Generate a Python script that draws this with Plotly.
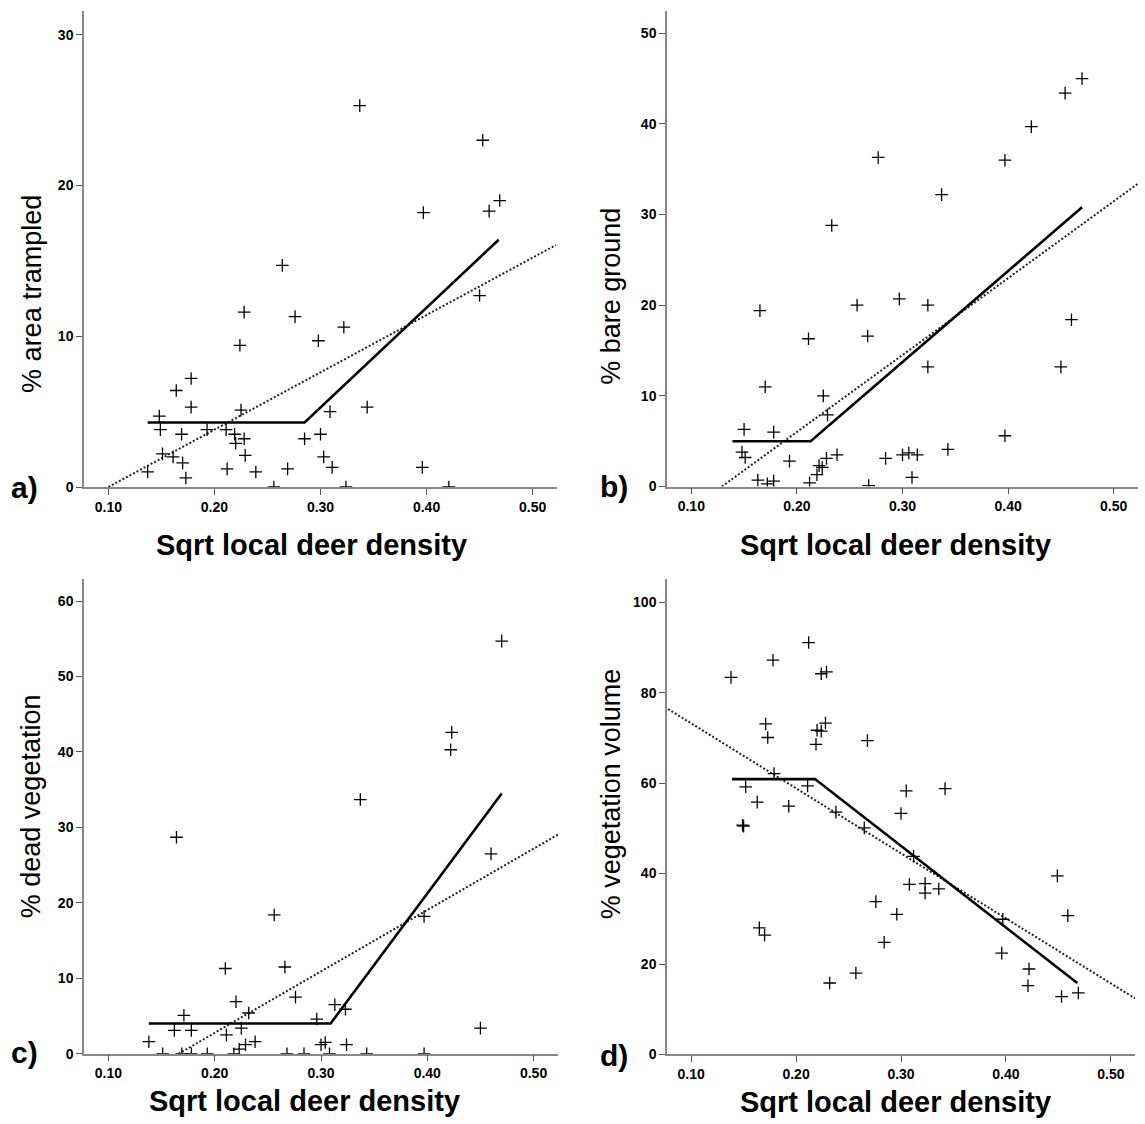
import plotly.graph_objects as go

# ---------------- data ----------------
# a) % area trampled
xa = [0.337, 0.453, 0.469, 0.459, 0.397, 0.450, 0.264, 0.228, 0.276, 0.322, 0.224, 0.298,
      0.178, 0.164, 0.178, 0.344, 0.148, 0.225, 0.309, 0.149, 0.169, 0.193, 0.211, 0.219,
      0.220, 0.228, 0.285, 0.300, 0.151, 0.161, 0.170, 0.229, 0.303, 0.173, 0.137, 0.212,
      0.239, 0.269, 0.311, 0.396, 0.256, 0.324, 0.421]
ya = [25.3, 23.0, 19.0, 18.3, 18.2, 12.7, 14.7, 11.6, 11.3, 10.6, 9.4, 9.7,
      7.2, 6.4, 5.3, 5.3, 4.7, 5.1, 5.0, 3.8, 3.5, 3.8, 3.8, 3.5,
      2.9, 3.2, 3.2, 3.5, 2.2, 2.0, 1.6, 2.1, 2.0, 0.6, 1.0, 1.2,
      1.0, 1.2, 1.3, 1.3, 0.0, 0.0, 0.0]
seg_xa = [0.137, 0.285, 0.468]
seg_ya = [4.28, 4.28, 16.4]
fit_xa = [0.100, 0.522]
fit_ya = [0.0, 16.05]

# b) % bare ground
xb = [0.470, 0.454, 0.422, 0.397, 0.277, 0.337, 0.233, 0.297, 0.257, 0.324, 0.165, 0.460,
      0.267, 0.211, 0.324, 0.450, 0.170, 0.225, 0.229, 0.150, 0.178, 0.397, 0.343, 0.148,
      0.151, 0.238, 0.228, 0.193, 0.284, 0.300, 0.306, 0.314, 0.221, 0.224, 0.219, 0.309,
      0.163, 0.178, 0.172, 0.212, 0.268]
yb = [45.0, 43.4, 39.7, 36.0, 36.3, 32.2, 28.8, 20.7, 20.0, 20.0, 19.4, 18.4,
      16.6, 16.3, 13.2, 13.2, 11.0, 10.0, 7.9, 6.3, 6.0, 5.6, 4.1, 3.8,
      3.2, 3.5, 3.1, 2.8, 3.1, 3.5, 3.7, 3.5, 2.3, 2.1, 1.3, 1.0,
      0.7, 0.6, 0.3, 0.4, 0.1]
seg_xb = [0.139, 0.213, 0.470]
seg_yb = [5.0, 5.0, 30.8]
fit_xb = [0.129, 0.524]
fit_yb = [0.0, 33.5]

# c) % dead vegetation
xc = [0.470, 0.423, 0.422, 0.337, 0.164, 0.460, 0.256, 0.397, 0.210, 0.266, 0.276, 0.220,
      0.313, 0.232, 0.323, 0.171, 0.296, 0.162, 0.178, 0.225, 0.450, 0.211, 0.138, 0.238,
      0.229, 0.304, 0.300, 0.324, 0.223, 0.151, 0.169, 0.178, 0.193, 0.218, 0.268, 0.284,
      0.308, 0.343, 0.397]
yc = [54.7, 42.6, 40.3, 33.7, 28.7, 26.5, 18.4, 18.2, 11.3, 11.5, 7.5, 6.9,
      6.5, 5.4, 5.9, 5.1, 4.6, 3.1, 3.1, 3.4, 3.4, 2.5, 1.6, 1.6,
      1.2, 1.5, 1.2, 1.2, 0.6, 0.0, 0.0, 0.0, 0.0, 0.0, 0.0, 0.0,
      0.0, 0.0, 0.0]
seg_xc = [0.138, 0.309, 0.470]
seg_yc = [4.0, 4.0, 34.5]
fit_xc = [0.166, 0.523]
fit_yc = [0.0, 29.05]

# d) % vegetation volume
xd = [0.212, 0.178, 0.138, 0.224, 0.229, 0.171, 0.173, 0.228, 0.220, 0.224, 0.219, 0.268,
      0.179, 0.152, 0.211, 0.305, 0.342, 0.163, 0.193, 0.238, 0.300, 0.149, 0.150, 0.265,
      0.308, 0.323, 0.323, 0.336, 0.449, 0.276, 0.296, 0.459, 0.397, 0.165, 0.170, 0.284,
      0.396, 0.422, 0.421, 0.257, 0.232, 0.453, 0.469, 0.312]
yd = [91.1, 87.2, 83.4, 84.2, 84.6, 73.1, 70.1, 73.3, 71.7, 71.5, 68.6, 69.4,
      62.1, 59.2, 59.4, 58.3, 58.8, 55.8, 54.9, 53.6, 53.3, 50.7, 50.5, 50.1,
      37.6, 37.8, 35.7, 36.6, 39.5, 33.8, 31.0, 30.7, 29.9, 28.0, 26.4, 24.8,
      22.4, 18.9, 15.2, 18.0, 15.8, 12.8, 13.6, 43.8]
seg_xd = [0.139, 0.218, 0.468]
seg_yd = [60.9, 60.9, 15.8]
fit_xd = [0.078, 0.523]
fit_yd = [76.4, 12.4]

y_titles = ["% area trampled", "% bare ground", "% dead vegetation", "% vegetation volume"]
panel_labels = ["a)", "b)", "c)", "d)"]
x_title = "Sqrt local deer density"
x_ticks = [0.10, 0.20, 0.30, 0.40, 0.50]
y_ticks = [[0, 10, 20, 30], [0, 10, 20, 30, 40, 50],
           [0, 10, 20, 30, 40, 50, 60], [0, 20, 40, 60, 80, 100]]
y_max = [31.6, 52.5, 62.9, 105.1]

# ---------------- figure ----------------
W, H = 1145, 1124
FONT = "Liberation Sans, Arial, sans-serif"

panels = [
    (xa, ya, seg_xa, seg_ya, fit_xa, fit_ya),
    (xb, yb, seg_xb, seg_yb, fit_xb, fit_yb),
    (xc, yc, seg_xc, seg_yc, fit_xc, fit_yc),
    (xd, yd, seg_xd, seg_yd, fit_xd, fit_yd),
]

# plot-area pixel boxes (left, right, top, bottom)
boxes = [(84, 557, 10.7, 490.5), (667, 1138, 10.7, 490.0),
         (84, 558, 583.4, 1061.3), (667, 1135, 583.4, 1062.0)]

fig = go.Figure()
layout = dict(width=W, height=H, autosize=False,
              margin=dict(l=0, r=0, t=0, b=0),
              paper_bgcolor="white", plot_bgcolor="white",
              showlegend=False, annotations=[])

for i, (px, py, sx, sy, fx, fy) in enumerate(panels):
    k = "" if i == 0 else str(i + 1)
    xref, yref = "x" + k, "y" + k
    fig.add_trace(go.Scatter(x=fx, y=fy, mode="lines", xaxis=xref, yaxis=yref,
                             line=dict(color="#222222", width=2, dash="2px,2px")))
    fig.add_trace(go.Scatter(x=sx, y=sy, mode="lines", xaxis=xref, yaxis=yref,
                             line=dict(color="black", width=2.6)))
    fig.add_trace(go.Scatter(x=px, y=py, mode="markers", xaxis=xref, yaxis=yref,
                             marker=dict(symbol="cross-thin", size=9, color="black",
                                         line=dict(color="black", width=1.3))))
    l, r, t, b = boxes[i]
    layout["xaxis" + k] = dict(
        domain=[l / W, r / W], anchor=yref, range=[0.077, 0.523],
        tickvals=x_ticks, ticktext=["%.2f" % v for v in x_ticks],
        ticks="outside", ticklen=6, tickwidth=1.3, tickcolor="#555555",
        showline=True, linecolor="#888888", linewidth=1.5,
        showgrid=False, zeroline=False,
        tickfont=dict(family=FONT, size=14, color="black", weight="bold"))
    layout["yaxis" + k] = dict(
        domain=[1 - b / H, 1 - t / H], anchor=xref, range=[0, y_max[i]],
        tickvals=y_ticks[i], ticks="outside", ticklen=6, tickwidth=1.3,
        tickcolor="#555555",
        showline=True, linecolor="#888888", linewidth=1.5,
        showgrid=False, zeroline=False,
        tickfont=dict(family=FONT, size=14, color="black", weight="bold"))

# annotation positions in pixels
ytitle_pos = [(32, 296), (611, 299), (31, 812), (611, 800)]
xtitle_pos = [(311, 549), (895, 549), (304, 1109), (895, 1110)]
label_pos = [(24, 491), (614, 490), (24, 1060), (614, 1063)]

for i in range(4):
    xp, yp = ytitle_pos[i]
    layout["annotations"].append(dict(
        text=y_titles[i], x=xp / W, y=1 - yp / H, xref="paper", yref="paper",
        xanchor="center", yanchor="middle", textangle=-90, showarrow=False,
        font=dict(family=FONT, size=27, color="black")))
    xp, yp = xtitle_pos[i]
    layout["annotations"].append(dict(
        text=x_title, x=xp / W, y=1 - yp / H, xref="paper", yref="paper",
        xanchor="center", yanchor="middle", showarrow=False,
        font=dict(family=FONT, size=29, color="black", weight="bold")))
    xp, yp = label_pos[i]
    layout["annotations"].append(dict(
        text=panel_labels[i], x=xp / W, y=1 - yp / H, xref="paper", yref="paper",
        xanchor="center", yanchor="middle", showarrow=False,
        font=dict(family=FONT, size=30, color="black", weight="bold")))

fig.update_layout(**layout)
fig.write_html("out.html",
               config={"displayModeBar": False},
               post_script="document.body.style.margin='0px';"
                           "document.body.style.overflow='hidden';")
